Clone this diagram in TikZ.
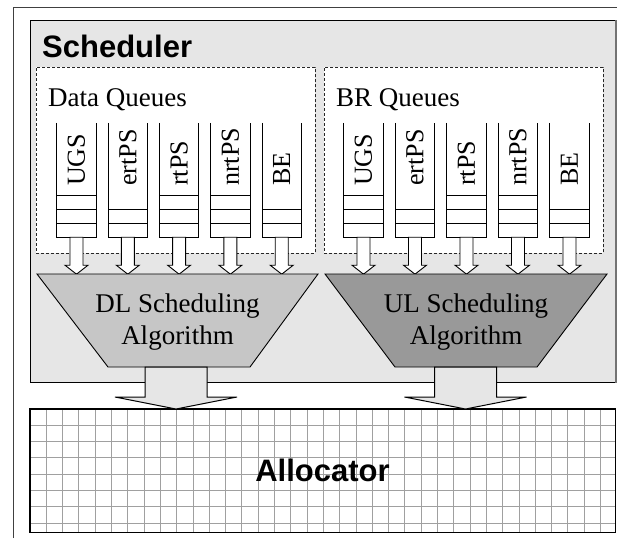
\documentclass[tikz,border=0pt]{standalone}
\usepackage{fontspec}
\setmainfont{Liberation Serif}
\newfontfamily\headfont{Liberation Sans}
\usetikzlibrary{calc}

\definecolor{schedbg}{HTML}{E6E6E6}
\definecolor{dlfill}{HTML}{C6C6C6}
\definecolor{ulfill}{HTML}{999999}
\definecolor{gridcol}{HTML}{A0A0A0}

% one queue: name, centre x, label, positions of the cell separators
\newcommand\queuecol[4]{%
  \path (#2,180) node[qcol] (#1) {};
  \draw[qline] (#1.north west) -- (#1.south west) -- (#1.south east) -- (#1.north east);
  \foreach \yy in {#4} \draw[qline] ({#2-19.5},\yy) -- ({#2+19.5},\yy);
  \node[qlabel] (#1lbl) at (#2,186) {#3};
  \draw[smallarrow] (#1.south) ++(-6.5,0) -- ++(0,28) -- ++(-5,0) -- ++(11.5,9)
      -- ++(11.5,-9) -- ++(-5,0) -- ++(0,-28) -- cycle;
}
% wide arrow from an algorithm block down to the allocator
\newcommand\bigarrow[1]{%
  \draw[bigarrowstyle] (#1) ++(-31,0) -- ++(0,30) -- ++(-30,0) -- ++(61,12)
      -- ++(61,-12) -- ++(-30,0) -- ++(0,-30) -- cycle;
}

\begin{document}
\begin{tikzpicture}[x=1pt,y=-1pt,line join=miter,
  frame/.style={draw=black!75,line width=1pt},
  sched/.style={draw=black,line width=1pt,fill=schedbg,inner sep=0pt,anchor=north west},
  qgroup/.style={draw=black!85,dash pattern=on 3pt off 2pt,line width=0.9pt,fill=white,inner sep=0pt,anchor=north west},
  qcol/.style={fill=white,minimum width=39,minimum height=114,inner sep=0pt},
  qline/.style={draw=black,line width=1pt},
  qlabel/.style={font=\fontsize{26}{26}\selectfont,rotate=90,anchor=west,inner sep=0pt},
  smallarrow/.style={draw=black,fill=white,line width=0.9pt},
  bigarrowstyle/.style={draw=black,fill=schedbg,line width=1pt},
  algo/.style={draw=black,line width=0.9pt},
  serif/.style={font=\fontsize{27}{32}\selectfont,inner sep=0pt},
  title/.style={font=\headfont\bfseries\fontsize{31}{31}\selectfont,inner sep=0pt},
  gridline/.style={draw=gridcol,line width=1pt}
]
\useasboundingbox (0,0) rectangle (617,538);

% outer frame
\draw[frame] (13,538) -- (13,7) -- (617,7);

% scheduler block
\node[sched,minimum width=585,minimum height=362] (scheduler) at (30,20) {};
\draw[draw=black!55,line width=1.6pt] (scheduler.north east) -- (scheduler.south east);
\node[title,anchor=base west] (schedtitle) at (42,57) {Scheduler};

% queue groups
\node[qgroup,minimum width=279,minimum height=186] (dataq) at (36,67) {};
\node[qgroup,minimum width=279,minimum height=186] (brq) at (324,67) {};
\node[serif,anchor=base west] (dataqlbl) at (48,106) {Data Queues};
\node[serif,anchor=base west] (brqlbl) at (336,106) {BR Queues};

% data queues
\queuecol{dugs}{76.5}{UGS}{195,209,223}
\queuecol{dert}{127.8}{ertPS}{209,223}
\queuecol{drt}{179.1}{rtPS}{195,209,223}
\queuecol{dnrt}{230.4}{nrtPS}{195,209,223}
\queuecol{dbe}{281.7}{BE}{209,223}

% bandwidth request queues
\queuecol{bugs}{363.5}{UGS}{195,209,223}
\queuecol{bert}{415}{ertPS}{209,223}
\queuecol{brt}{466.5}{rtPS}{195,209,223}
\queuecol{bnrt}{518}{nrtPS}{195,209,223}
\queuecol{bbe}{569.5}{BE}{209,223}

% scheduling algorithms
\draw[algo,fill=dlfill] (37,274) -- (318,274) -- (250,367) -- (108,367) -- cycle;
\draw[algo,fill=ulfill] (325,274) -- (607,274) -- (537,367) -- (395,367) -- cycle;
\node[serif,align=center] (dl) at (177.5,322.5) {DL Scheduling\\Algorithm};
\node[serif,align=center] (ul) at (466,322.5) {UL Scheduling\\Algorithm};
\coordinate (dlout) at (176,367);
\coordinate (ulout) at (465.5,367);

% allocator grid
\node[inner sep=0pt,minimum width=585,minimum height=123,anchor=north west] (alloc) at (30,409) {};
\begin{scope}
  \clip (alloc.north west) rectangle (alloc.south east);
  \foreach \k in {1,...,36} \draw[gridline] ({30+16.3*\k},409) -- ({30+16.3*\k},532);
  \foreach \k in {1,...,7} \draw[gridline] (30,{409+16.3*\k}) -- (615,{409+16.3*\k});
\end{scope}
\draw[draw=black,line width=1.1pt] (alloc.north west) rectangle (alloc.south east);
\node[title,anchor=base] (alloclbl) at (322.5,481) {Allocator};

% outputs of the algorithms
\bigarrow{dlout}
\bigarrow{ulout}
\end{tikzpicture}
\end{document}
